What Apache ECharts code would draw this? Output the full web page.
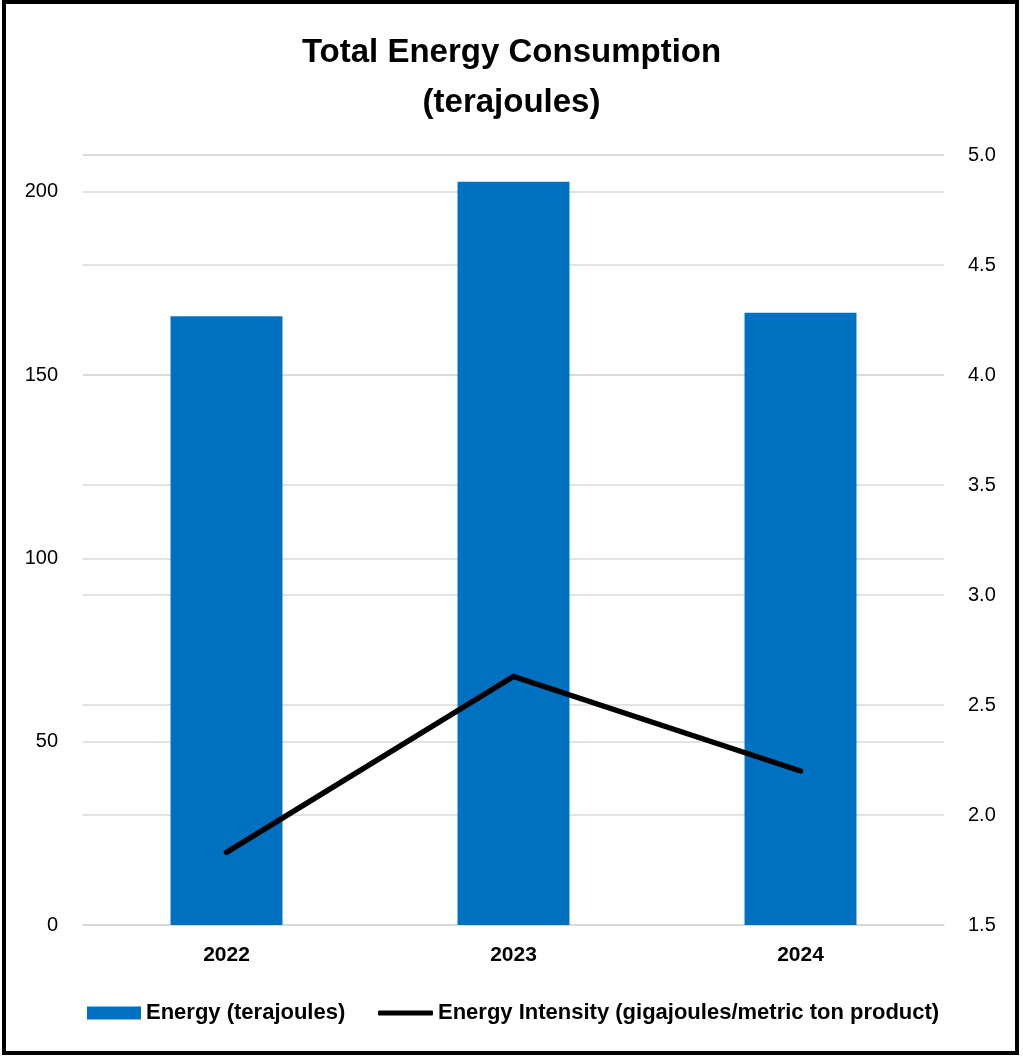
<!DOCTYPE html>
<html>
<head>
<meta charset="utf-8">
<script src="https://cdn.jsdelivr.net/npm/echarts@6/dist/echarts.min.js"></script>
<style>
html,body{margin:0;padding:0;background:#fff;}
#chart{width:1023px;height:1059px;}
</style>
</head>
<body>
<div id="chart"></div>
<script>
const categories = ['2022', '2023', '2024'];
const energyTJ = [166, 202.7, 167];
const intensityGJ = [1.83, 2.63, 2.2];
const leftTicks = [0, 50, 100, 150, 200];
const rightTicks = [1.5, 2.0, 2.5, 3.0, 3.5, 4.0, 4.5, 5.0];
const seriesNames = ['Energy (terajoules)', 'Energy Intensity (gigajoules/metric ton product)'];
const titleText = 'Total Energy Consumption\n(terajoules)';

const FONT = 'Liberation Sans';
const chart = echarts.init(document.getElementById('chart'));
const grid = '#d9d9d9';
chart.setOption({
  animation: false,
  backgroundColor: '#fff',
  title: {
    text: titleText,
    left: 'center',
    top: 23,
    textStyle: {fontFamily: FONT, fontWeight: 'bold', fontSize: 33, color: '#000', lineHeight: 50}
  },
  graphic: [{
    type: 'rect', silent: true, z: 100,
    shape: {x: 4, y: 2, width: 1013, height: 1051},
    style: {fill: 'none', stroke: '#000', lineWidth: 4}
  }],
  legend: [{
    data: [seriesNames[0]],
    left: 87, top: 1002, padding: 0,
    itemWidth: 54, itemHeight: 13, itemGap: 6,
    icon: 'rect',
    textStyle: {fontFamily: FONT, fontWeight: 'bold', fontSize: 22, color: '#000'}
  }, {
    data: [{name: seriesNames[1], icon: 'roundRect'}],
    left: 378, top: 1002, padding: 0,
    itemWidth: 55, itemHeight: 5, itemGap: 5,
    textStyle: {fontFamily: FONT, fontWeight: 'bold', fontSize: 22, color: '#000'}
  }],
  grid: {left: 83, right: 79, top: 155, bottom: 134, containLabel: false},
  xAxis: {
    type: 'category',
    data: categories,
    axisLine: {show: true, lineStyle: {color: grid, width: 1.5}},
    axisTick: {show: false},
    axisLabel: {fontFamily: FONT, fontWeight: 'bold', fontSize: 21, color: '#000', margin: 20}
  },
  yAxis: [{
    type: 'value', min: 0, max: 210, interval: 50,
    axisLine: {show: false}, axisTick: {show: false},
    splitLine: {show: true, lineStyle: {color: grid, width: 1.5}},
    axisLabel: {
      fontFamily: FONT, fontSize: 20, color: '#000', margin: 25, showMaxLabel: false,
      formatter: v => leftTicks.includes(v) ? String(v) : ''
    }
  }, {
    type: 'value', min: 1.5, max: 5.0, interval: 0.5, position: 'right',
    axisLine: {show: false}, axisTick: {show: false},
    splitLine: {show: true, lineStyle: {color: grid, width: 1.5}},
    axisLabel: {
      fontFamily: FONT, fontSize: 20, color: '#000', margin: 24,
      formatter: v => rightTicks.some(t => Math.abs(t - v) < 1e-9) ? v.toFixed(1) : ''
    }
  }],
  series: [{
    name: seriesNames[0], type: 'bar', yAxisIndex: 0,
    data: energyTJ, barWidth: '39%',
    itemStyle: {color: '#0070C0'}, z: 2
  }, {
    name: seriesNames[1], type: 'line', yAxisIndex: 1,
    data: intensityGJ, showSymbol: false, symbol: 'none',
    itemStyle: {color: '#000'},
    lineStyle: {color: '#000', width: 5.5, cap: 'round', join: 'miter'}, z: 3
  }]
});
</script>
</body>
</html>
